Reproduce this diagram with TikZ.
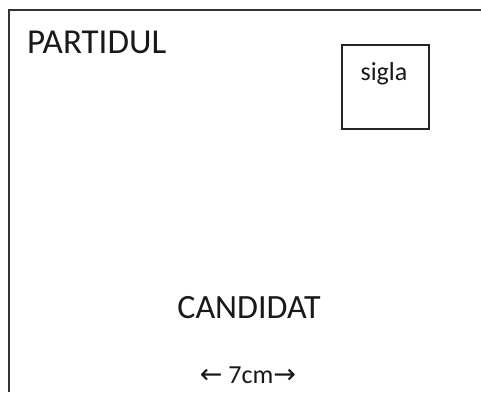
\documentclass[tikz,border=0pt]{standalone}
\usepackage{fontspec}
\setmainfont{Carlito}
\newfontfamily\arrfont{DejaVu Sans}
\begin{document}
\begin{tikzpicture}[x=1pt,y=-1pt,
  frame/.style={draw=black!80,line width=1.4pt},
  box/.style={draw=black!85,line width=1.2pt},
  lbl/.style={inner sep=0pt,text=black!90}]
\useasboundingbox (0,0) rectangle (481,392);
\fill[white] (0,0) rectangle (481,392);
\coordinate (bl) at (9,392);
\coordinate (tl) at (9,10);
\coordinate (tr) at (481,10);
\draw[frame] (bl) -- (tl) -- (tr);
\node[box,minimum width=87pt,minimum height=84pt,inner sep=0pt] (sbox) at (385.5,87) {};
\node[lbl,anchor=base] (sigla) at (384,80) {\fontsize{26}{30}\selectfont sigla};
\node[lbl,anchor=base west] (partid) at (27,53) {\fontsize{35}{40}\selectfont PARTIDUL};
\node[lbl,anchor=base] (cand) at (249,318) {\fontsize{34}{40}\selectfont CANDIDAT};
\node[lbl,anchor=base] (dim) at (248,383) {\fontsize{26}{30}\selectfont{\arrfont\fontsize{27}{30}\selectfont ←} 7cm{\arrfont\fontsize{27}{30}\selectfont →}};
\end{tikzpicture}
\end{document}
